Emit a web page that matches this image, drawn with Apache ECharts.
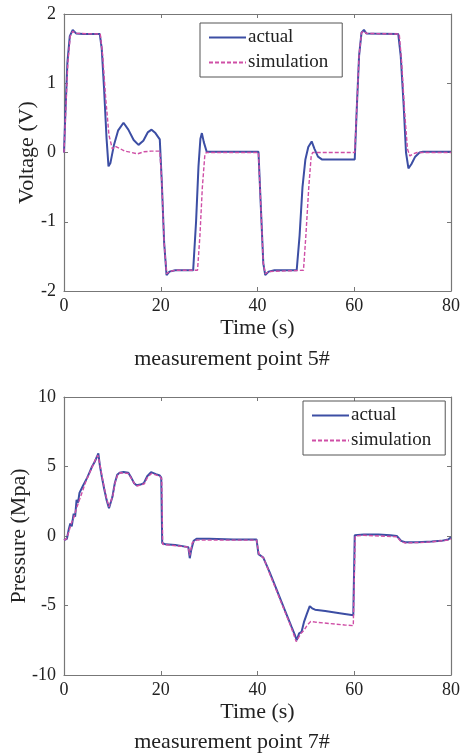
<!DOCTYPE html>
<html>
<head>
<meta charset="utf-8">
<script src="https://cdn.jsdelivr.net/npm/echarts@6/dist/echarts.min.js"></script>
<style>
  html, body { margin: 0; padding: 0; background: #fff; }
  #chart { width: 464px; height: 753px; }
</style>
</head>
<body>
<div id="chart"></div>
<script>
// ---- data: [time (s), value] ----
const voltActual = [
  [0,0],[0.3,0.6],[0.7,1.3],[1.2,1.68],[1.8,1.77],[2.5,1.72],[4,1.71],[6,1.71],[7.4,1.71],
  [7.8,1.5],[8.3,0.9],[8.8,0.2],[9.2,-0.2],[9.6,-0.15],[10.3,0.1],[11.2,0.32],[12.3,0.43],
  [13.3,0.33],[14.4,0.18],[15.4,0.11],[16.4,0.17],[17.3,0.29],[18.1,0.33],[18.9,0.28],[19.8,0.19],
  [20.2,-0.4],[20.7,-1.3],[21.2,-1.77],[21.8,-1.72],[23,-1.7],[26.7,-1.7],[27.3,-1.0],[27.8,-0.2],
  [28.2,0.2],[28.5,0.28],[28.9,0.15],[29.5,0.01],[30,0.01],[40.2,0.01],[40.7,-0.8],[41.2,-1.6],
  [41.6,-1.77],[42.3,-1.72],[43.5,-1.7],[48.1,-1.7],[48.7,-1.2],[49.3,-0.5],[49.9,-0.1],[50.5,0.08],
  [51.2,0.16],[51.8,0.05],[52.5,-0.06],[53.3,-0.1],[60.1,-0.1],[60.5,0.6],[61,1.4],[61.5,1.73],
  [62,1.77],[62.5,1.72],[69.1,1.71],[69.6,1.4],[70.2,0.7],[70.7,0.0],[71.2,-0.23],[71.8,-0.17],
  [72.6,-0.06],[73.5,0],[74.2,0.01],[80,0.01]
];
const voltSim = [
  [0,0],[0.3,0.5],[0.8,1.3],[1.3,1.68],[1.8,1.75],[2.5,1.72],[7.5,1.71],[8,1.4],[8.6,0.8],
  [9.3,0.25],[10,0.05],[10.6,0.09],[11.5,0.06],[12.5,0.02],[14,0.0],[15.2,-0.02],[16.5,0.01],
  [18,0.02],[19.8,0.02],[20.2,-0.4],[20.7,-1.3],[21.2,-1.75],[21.8,-1.72],[23,-1.7],[27.6,-1.7],
  [28.1,-1.2],[28.6,-0.5],[29.1,-0.05],[29.4,0],[40.2,0],[40.7,-0.8],[41.2,-1.6],[41.6,-1.75],
  [42.3,-1.72],[49.5,-1.7],[50,-1.2],[50.6,-0.5],[51.1,-0.05],[51.4,0],[60.1,0],[60.5,0.6],
  [61,1.4],[61.5,1.73],[62,1.75],[62.5,1.72],[69.3,1.71],[69.8,1.3],[70.4,0.6],[71,0.05],
  [71.5,-0.05],[72.2,-0.02],[73,0],[80,0]
];
const pressActual = [
  [0,-0.3],[0.3,-0.4],[0.6,-0.2],[1.0,0.5],[1.3,0.9],[1.6,0.7],[2.0,1.6],[2.3,1.4],[2.6,2.6],
  [2.9,2.4],[3.2,3.1],[3.5,3.0],[3.9,3.6],[4.3,3.7],[4.8,4.2],[5.3,4.6],[5.8,5.0],[6.3,5.3],
  [6.8,5.7],[7.1,5.95],[7.4,5.1],[7.8,4.3],[8.3,3.4],[8.8,2.6],[9.3,2.0],[9.6,2.0],[10.0,2.8],
  [10.5,3.8],[11.0,4.4],[11.5,4.55],[12.3,4.6],[13.3,4.55],[13.9,4.2],[14.5,3.8],[15.0,3.65],
  [15.8,3.7],[16.5,3.8],[17.2,4.3],[18.0,4.6],[19.0,4.45],[19.8,4.35],[20.1,4.2],[20.3,-0.5],
  [21,-0.6],[23,-0.65],[25.7,-0.8],[26.0,-1.6],[26.3,-1.0],[26.8,-0.35],[27.4,-0.2],[30,-0.2],
  [35,-0.25],[39.8,-0.25],[40.2,-1.3],[41.2,-1.55],[42.5,-2.6],[44,-3.9],[45.5,-5.2],[47,-6.5],
  [47.7,-7.1],[48.1,-7.5],[48.6,-7.0],[49.1,-6.9],[49.6,-6.2],[50.2,-5.6],[50.8,-5.05],[51.3,-5.2],
  [51.9,-5.3],[54,-5.4],[57,-5.55],[59.8,-5.7],[60.1,0.05],[62,0.1],[65,0.1],[67.5,0.05],
  [68.8,0.0],[69.7,-0.35],[70.5,-0.45],[73,-0.45],[76,-0.4],[78,-0.35],[79.4,-0.25],[80,-0.1]
];
const pressSim = [
  [0,-0.3],[0.5,-0.2],[1.0,0.3],[1.5,0.9],[2.0,1.3],[2.5,1.9],[3.0,2.4],[3.5,2.9],[4.0,3.4],
  [4.5,3.9],[5.0,4.3],[5.5,4.7],[6.0,5.1],[6.5,5.5],[7.0,5.8],[7.3,5.4],[7.8,4.4],[8.3,3.5],
  [8.8,2.7],[9.3,2.1],[9.7,2.1],[10.1,2.9],[10.6,3.9],[11.1,4.4],[11.6,4.55],[13.3,4.5],[14,4.1],
  [14.6,3.75],[15.1,3.6],[16.6,3.75],[17.3,4.25],[18.1,4.5],[19.8,4.3],[20.2,4.1],[20.4,-0.6],
  [25.7,-0.8],[26.0,-1.4],[26.5,-0.5],[27.4,-0.3],[39.8,-0.3],[40.3,-1.3],[41.3,-1.6],[42.5,-2.7],
  [44,-4.0],[45.5,-5.3],[47,-6.6],[48,-7.6],[48.5,-7.3],[49,-7.0],[49.6,-6.8],[50.3,-6.4],
  [51,-6.15],[52,-6.2],[55,-6.3],[58,-6.4],[59.8,-6.45],[60.2,0.0],[62,0.05],[68.8,-0.05],
  [69.7,-0.4],[70.5,-0.5],[75,-0.45],[79.4,-0.3],[80,-0.2]
];
const seriesNames = ['actual', 'simulation'];
const titles = ['measurement point 5#', 'measurement point 7#'];
const yNames = ['Voltage (V)', 'Pressure (Mpa)'];
const yRanges = [[-2, 2, 1], [-10, 10, 5]];

const font = 'Liberation Serif';
const axisColor = '#777';
const blue = '#3c4ea4';
const magenta = '#cf4fa6';

var chart = echarts.init(document.getElementById('chart'));

const grids = [
  { left: 64, top: 14, width: 387, height: 277, outerBoundsMode: 'none' },
  { left: 64, top: 397, width: 387, height: 278, outerBoundsMode: 'none' }
];
const yNameGaps = [26, 34];

let xAxes = [], yAxes = [];
for (let g = 0; g < 2; g++) {
  // bottom axis with labels
  xAxes.push({
    gridIndex: g, type: 'value', min: 0, max: 80, interval: 20,
    name: 'Time (s)', nameLocation: 'middle', nameGap: 26, nameMoveOverlap: false,
    nameTextStyle: { fontFamily: font, fontSize: 22, color: '#222' },
    axisLine: { onZero: false, lineStyle: { color: axisColor, width: 1.2 } },
    axisTick: { inside: true, length: 4, lineStyle: { color: axisColor } },
    axisLabel: { fontFamily: font, fontSize: 18, color: '#222', margin: 6 },
    splitLine: { show: false }
  });
  // top edge of the box
  xAxes.push({
    gridIndex: g, type: 'value', position: 'top', min: 0, max: 80, interval: 20,
    axisLine: { onZero: false, lineStyle: { color: axisColor, width: 1.2 } },
    axisTick: { inside: true, length: 4, lineStyle: { color: axisColor } },
    axisLabel: { show: false }, splitLine: { show: false }
  });
  const r = yRanges[g];
  yAxes.push({
    gridIndex: g, type: 'value', min: r[0], max: r[1], interval: r[2],
    name: yNames[g], nameLocation: 'middle', nameGap: yNameGaps[g], nameRotate: 90,
    nameMoveOverlap: false,
    nameTextStyle: { fontFamily: font, fontSize: 22, color: '#222' },
    axisLine: { show: true, onZero: false, lineStyle: { color: axisColor, width: 1.2 } },
    axisTick: { show: true, inside: true, length: 4, lineStyle: { color: axisColor } },
    axisLabel: { fontFamily: font, fontSize: 18, color: '#222', margin: 8 },
    splitLine: { show: false }
  });
  // right edge of the box
  yAxes.push({
    gridIndex: g, type: 'value', position: 'right', min: r[0], max: r[1], interval: r[2],
    axisLine: { show: true, onZero: false, lineStyle: { color: axisColor, width: 1.2 } },
    axisTick: { show: true, inside: true, length: 4, lineStyle: { color: axisColor } },
    axisLabel: { show: false }, splitLine: { show: false }
  });
}

function makeLine(name, data, g, isSim) {
  return {
    name: name, type: 'line', data: data,
    xAxisIndex: g * 2, yAxisIndex: g * 2,
    symbol: 'none', animation: false,
    lineStyle: isSim
      ? { color: magenta, width: 1.4, type: [4, 2] }
      : { color: blue, width: 2 },
    itemStyle: { color: isSim ? magenta : blue },
    z: isSim ? 3 : 2
  };
}

const legendBase = {
  orient: 'vertical', data: seriesNames,
  backgroundColor: '#fff', borderColor: '#555', borderWidth: 1,
  padding: [5, 14, 5, 8], itemGap: 6, itemWidth: 37, itemHeight: 14,
  itemStyle: { opacity: 0 },
  textStyle: { fontFamily: font, fontSize: 19, color: '#222', padding: [0, 0, 0, -3] }
};

const titleStyle = { fontFamily: font, fontSize: 22, fontWeight: 'normal', color: '#222' };

const option = {
  animation: false,
  grid: grids,
  title: [
    { text: titles[0], left: 'center', top: 343, textStyle: titleStyle },
    { text: titles[1], left: 'center', top: 726, textStyle: titleStyle }
  ],
  legend: [
    Object.assign({}, legendBase, { left: 200, top: 23 }),
    Object.assign({}, legendBase, { left: 303, top: 401 })
  ],
  xAxis: xAxes,
  yAxis: yAxes,
  series: [
    makeLine('actual', voltActual, 0, false),
    makeLine('simulation', voltSim, 0, true),
    makeLine('actual', pressActual, 1, false),
    makeLine('simulation', pressSim, 1, true)
  ]
};

chart.setOption(option);
</script>
</body>
</html>
